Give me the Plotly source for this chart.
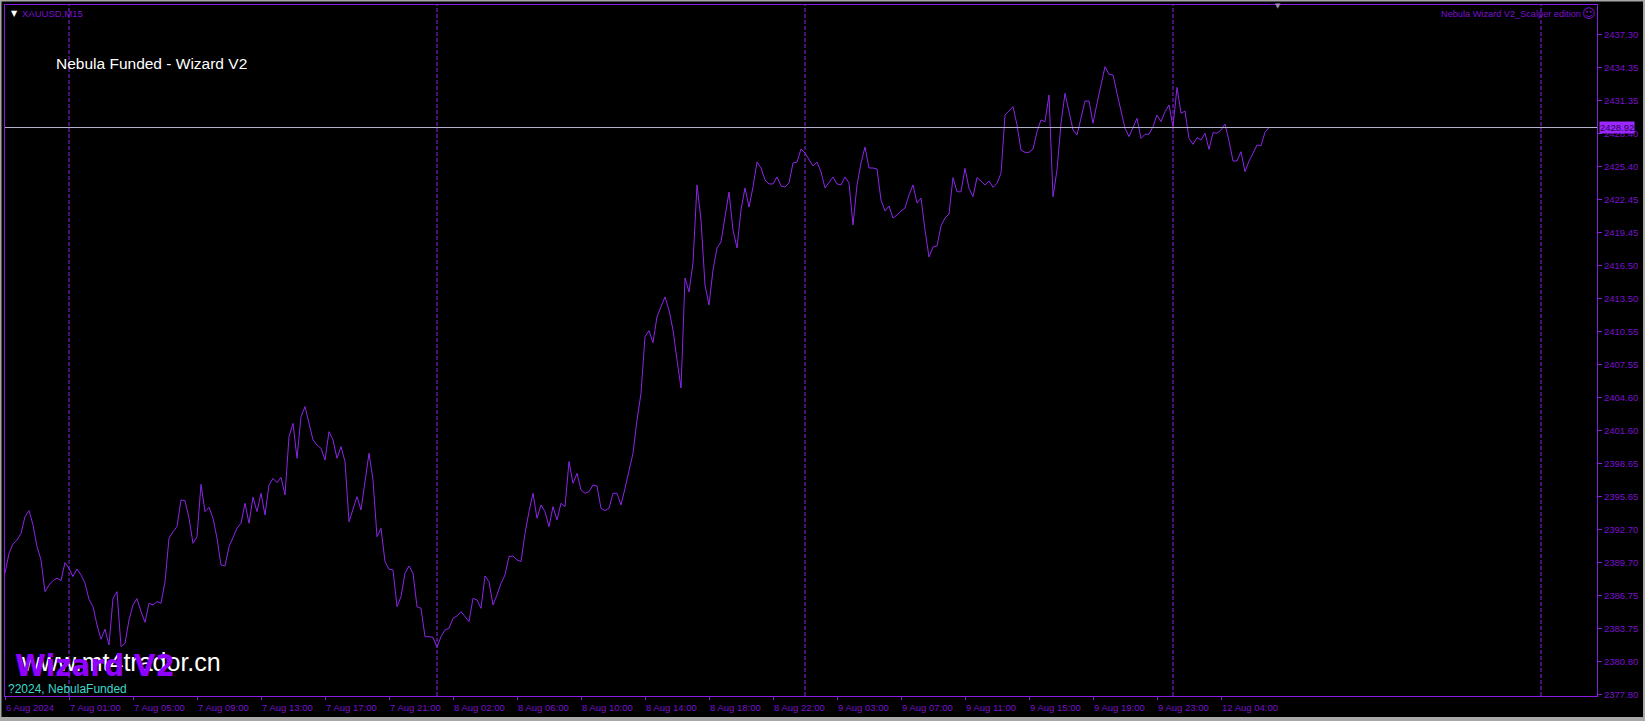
import plotly.graph_objects as go

# ---------------- data (XAUUSD M15 close) ----------------
close_6aug = [2388.72, 2390.52, 2391.36, 2391.72, 2392.32, 2393.83, 2394.37, 2393.08,
              2391.12, 2389.92, 2387.06, 2387.66, 2388.06, 2388.27, 2388.06, 2389.68]
close_7aug = [2389.17, 2388.42, 2389.11, 2388.57, 2387.82, 2386.37, 2385.71, 2384.06,
              2382.77, 2383.67, 2382.25, 2386.46, 2387.06, 2382.10,
              2382.40, 2384.51, 2385.86, 2386.43, 2385.26, 2384.30, 2386.01, 2385.86,
              2386.16, 2386.01, 2387.97, 2391.87, 2392.47, 2392.93, 2395.33, 2395.27,
              2393.68, 2391.42, 2392.02, 2396.74,
              2394.28, 2394.67, 2393.68, 2391.87, 2389.47, 2389.38, 2391.12, 2392.02,
              2392.78, 2393.23, 2395.03, 2393.23, 2395.57, 2394.28, 2395.93, 2393.98,
              2396.68, 2397.28, 2396.89, 2397.37,
              2395.78, 2401.04, 2402.24, 2399.09, 2402.85, 2403.75, 2402.24, 2400.74,
              2400.29, 2399.99, 2398.94, 2401.49, 2400.74, 2399.09, 2400.14, 2398.79,
              2393.37, 2394.58, 2395.63, 2394.43,
              2397.13, 2399.54, 2397.13, 2392.02, 2392.77, 2389.77, 2389.08, 2389.02,
              2385.71, 2386.61, 2388.72, 2389.38, 2388.72, 2385.71, 2385.56, 2383.00,
              2383.00, 2382.94]
close_8aug = [2382.04, 2383.00, 2383.61, 2383.76, 2384.66, 2384.87, 2385.26, 2384.81,
              2384.36, 2386.46, 2386.31, 2385.56, 2388.48, 2387.96, 2385.86, 2386.76,
              2387.81, 2388.57, 2390.22, 2390.28,
              2389.92, 2389.77, 2392.32, 2394.28, 2395.93, 2393.68, 2394.88, 2394.28,
              2392.92, 2394.73, 2393.53, 2395.03, 2394.73, 2398.79, 2396.83, 2397.73,
              2396.23, 2395.93, 2396.08, 2396.68,
              2396.59, 2394.58, 2394.37, 2394.58, 2395.93, 2395.93, 2394.88, 2396.38,
              2397.88, 2399.54, 2402.54, 2404.95, 2410.06, 2410.60, 2409.52, 2411.86,
              2412.76, 2413.64, 2412.46, 2410.66,
              2407.96, 2405.43, 2415.35, 2414.09, 2416.70, 2423.74, 2420.58, 2414.72,
              2412.92, 2416.07, 2418.06, 2418.60, 2420.85, 2423.11, 2419.68, 2418.06,
              2421.48, 2423.47, 2421.75, 2423.56,
              2425.81, 2425.27, 2424.19, 2423.83, 2423.83, 2424.46, 2423.65, 2423.56,
              2423.92, 2425.72, 2425.81, 2426.98]
close_9aug = [2426.62, 2425.99, 2425.45, 2425.81, 2424.91, 2423.47, 2423.92, 2424.46,
              2423.83, 2423.74, 2424.46, 2423.92, 2420.13, 2423.74, 2425.72, 2427.16,
              2425.27, 2425.27, 2425.18, 2422.38,
              2421.39, 2421.84, 2420.76, 2421.03, 2421.39, 2421.66, 2422.83, 2423.74,
              2422.11, 2422.56, 2419.68, 2417.24, 2418.15, 2418.24, 2420.04, 2420.76,
              2421.12, 2424.40, 2423.13, 2423.13,
              2425.24, 2423.44, 2422.68, 2424.40, 2424.10, 2423.74, 2424.10, 2423.53,
              2423.89, 2424.79, 2430.05, 2430.41, 2430.80, 2429.15, 2426.89, 2426.68,
              2426.68, 2426.98, 2428.55, 2429.60,
              2429.45, 2431.85, 2422.68, 2425.09, 2429.30, 2432.00, 2430.35, 2428.70,
              2428.25, 2429.75, 2431.31, 2431.31, 2429.30, 2431.10, 2432.75, 2434.41,
              2433.72, 2433.66, 2432.00, 2430.29,
              2428.85, 2428.10, 2429.00, 2429.75, 2427.94, 2428.31, 2428.31, 2429.00,
              2430.05, 2429.45, 2430.35, 2430.95]
close_12aug = [2429.00, 2432.54, 2430.20, 2430.41, 2427.94, 2427.40, 2428.01, 2427.79,
               2428.40, 2426.95, 2428.46, 2428.40, 2428.70, 2429.24, 2427.70, 2425.90,
               2425.90, 2426.74, 2424.94, 2425.90, 2426.59, 2427.34, 2427.28, 2428.49,
               2428.92]

time_tick_bars = [0, 16, 32, 48, 64, 80, 96, 112, 128, 144, 160, 176, 192, 208, 224,
                  240, 256, 272, 288, 304]
time_tick_labels = ["6 Aug 2024", "7 Aug 01:00", "7 Aug 05:00", "7 Aug 09:00",
                    "7 Aug 13:00", "7 Aug 17:00", "7 Aug 21:00", "8 Aug 02:00",
                    "8 Aug 06:00", "8 Aug 10:00", "8 Aug 14:00", "8 Aug 18:00",
                    "8 Aug 22:00", "9 Aug 03:00", "9 Aug 07:00", "9 Aug 11:00",
                    "9 Aug 15:00", "9 Aug 19:00", "9 Aug 23:00", "12 Aug 04:00"]
price_tick_values = [2377.80, 2380.775, 2383.75, 2386.725, 2389.70, 2392.675, 2395.65,
                     2398.625, 2401.60, 2404.575, 2407.55, 2410.525, 2413.50, 2416.475,
                     2419.45, 2422.425, 2425.40, 2428.375, 2431.35, 2434.325, 2437.30]
price_tick_labels = ["2377.80", "2380.80", "2383.75", "2386.75", "2389.70", "2392.70",
                     "2395.65", "2398.65", "2401.60", "2404.60", "2407.55", "2410.55",
                     "2413.50", "2416.50", "2419.45", "2422.45", "2425.40", "2428.40",
                     "2431.35", "2434.35", "2437.30"]
day_separator_bars = [16, 108, 200, 292, 384]

closes = close_6aug + close_7aug + close_8aug + close_9aug + close_12aug
bars = list(range(len(closes)))
last_price = closes[-1]

# ---------------- style ----------------
W, H = 1645, 721
ML, MR, MT, MB = 5, 48, 5, 25
LINE = "#8d25ea"
AXIS = "#8a1ee0"
LABEL = "#7a10cc"
FONT = "Liberation Sans, Arial, sans-serif"


def px(xp, yp):
    return (xp - ML) / (W - ML - MR), (H - MB - yp) / (H - MT - MB)


fig = go.Figure()
fig.add_trace(go.Scatter(x=bars, y=closes, mode="lines",
                         line=dict(color=LINE, width=1), hoverinfo="skip",
                         showlegend=False))

shapes = []
for b in day_separator_bars:
    shapes.append(dict(type="line", xref="x", yref="paper", x0=b, x1=b, y0=0, y1=1,
                       line=dict(color=LINE, width=1, dash="4px,2px"), layer="below"))
shapes.append(dict(type="line", xref="paper", yref="y", x0=0, x1=1, y0=last_price,
                   y1=last_price, line=dict(color="#b4b4cc", width=1)))
# outer window frame
GR = "#a8a8a8"
shapes += [
    dict(type="rect", xref="paper", yref="paper", x0=px(0, 0)[0], x1=px(W, 0)[0],
         y0=px(0, 1.5)[1], y1=px(0, 0)[1], line=dict(width=0), fillcolor=GR),
    dict(type="rect", xref="paper", yref="paper", x0=px(0, 0)[0], x1=px(1.5, 0)[0],
         y0=px(0, H)[1], y1=px(0, 0)[1], line=dict(width=0), fillcolor=GR),
    dict(type="rect", xref="paper", yref="paper", x0=px(W - 2, 0)[0], x1=px(W, 0)[0],
         y0=px(0, H)[1], y1=px(0, 0)[1], line=dict(width=0), fillcolor=GR),
    dict(type="rect", xref="paper", yref="paper", x0=px(0, 0)[0], x1=px(W, 0)[0],
         y0=px(0, H)[1], y1=px(0, H - 4)[1], line=dict(width=0), fillcolor=GR),
]

ann = []


def text(xp, yp, s, size, color, family=FONT, xanchor="left", bold=False, **kw):
    x, y = px(xp, yp)
    ann.append(dict(xref="paper", yref="paper", x=x, y=y, text=(f"<b>{s}</b>" if bold else s),
                    showarrow=False, xanchor=xanchor, yanchor="middle",
                    font=dict(size=size, color=color, family=family), **kw))


text(9, 13, "▼", 8, "#ffffff", family="DejaVu Sans")
text(20, 13, "XAUUSD,M15", 9.5, LABEL)
text(1583, 14, "Nebula Wizard V2_Scalper edition", 9.2, LABEL, xanchor="right")
text(1589, 14, "☺", 13, LABEL, family="DejaVu Sans", xanchor="center")
text(1278, 6, "▼", 7, "#9a8ab8", family="DejaVu Sans", xanchor="center")
text(54, 63, "Nebula Funded - Wizard V2", 15.5, "#ffffff")
text(19, 662, "www.mt4trador.cn", 25, "#ffffff")
text(13, 665, "Wizard V2", 31, "#9000ff",
     family="DejaVu Sans Condensed, sans-serif", bold=True)
text(6, 689, "?2024, NebulaFunded", 12, "#3cd8cc")

# current price tag
ann.append(dict(xref="paper", yref="y", x=1.0, y=last_price, xanchor="left",
                yanchor="middle", xshift=2, text=f"{last_price:.2f}", showarrow=False,
                bgcolor="#9b28ff", borderpad=0,
                font=dict(size=9.5, color="#2a0050", family=FONT)))

fig.update_layout(
    width=W, height=H,
    margin=dict(l=ML, r=MR, t=MT, b=MB),
    paper_bgcolor="#000000", plot_bgcolor="#000000",
    shapes=shapes, annotations=ann,
    xaxis=dict(range=[0, 398], showgrid=False, zeroline=False,
               tickmode="array", tickvals=time_tick_bars, ticktext=time_tick_labels,
               ticks="outside", ticklen=3, tickcolor=AXIS,
               ticklabelposition="outside right", ticklabelstandoff=3,
               tickfont=dict(size=9.5, color=LABEL, family=FONT),
               showline=True, linecolor=AXIS, linewidth=1, mirror=True),
    yaxis=dict(range=[2377.65, 2439.97], side="right", showgrid=False, zeroline=False,
               tickmode="array", tickvals=price_tick_values, ticktext=price_tick_labels,
               ticks="outside", ticklen=4, tickcolor=AXIS,
               tickfont=dict(size=9.5, color=LABEL, family=FONT),
               showline=True, linecolor=AXIS, linewidth=1, mirror=True),
)

fig.write_html("out.html", config={"displayModeBar": False},
               post_script="document.body.style.margin='0px';document.body.style.overflow='hidden';")
